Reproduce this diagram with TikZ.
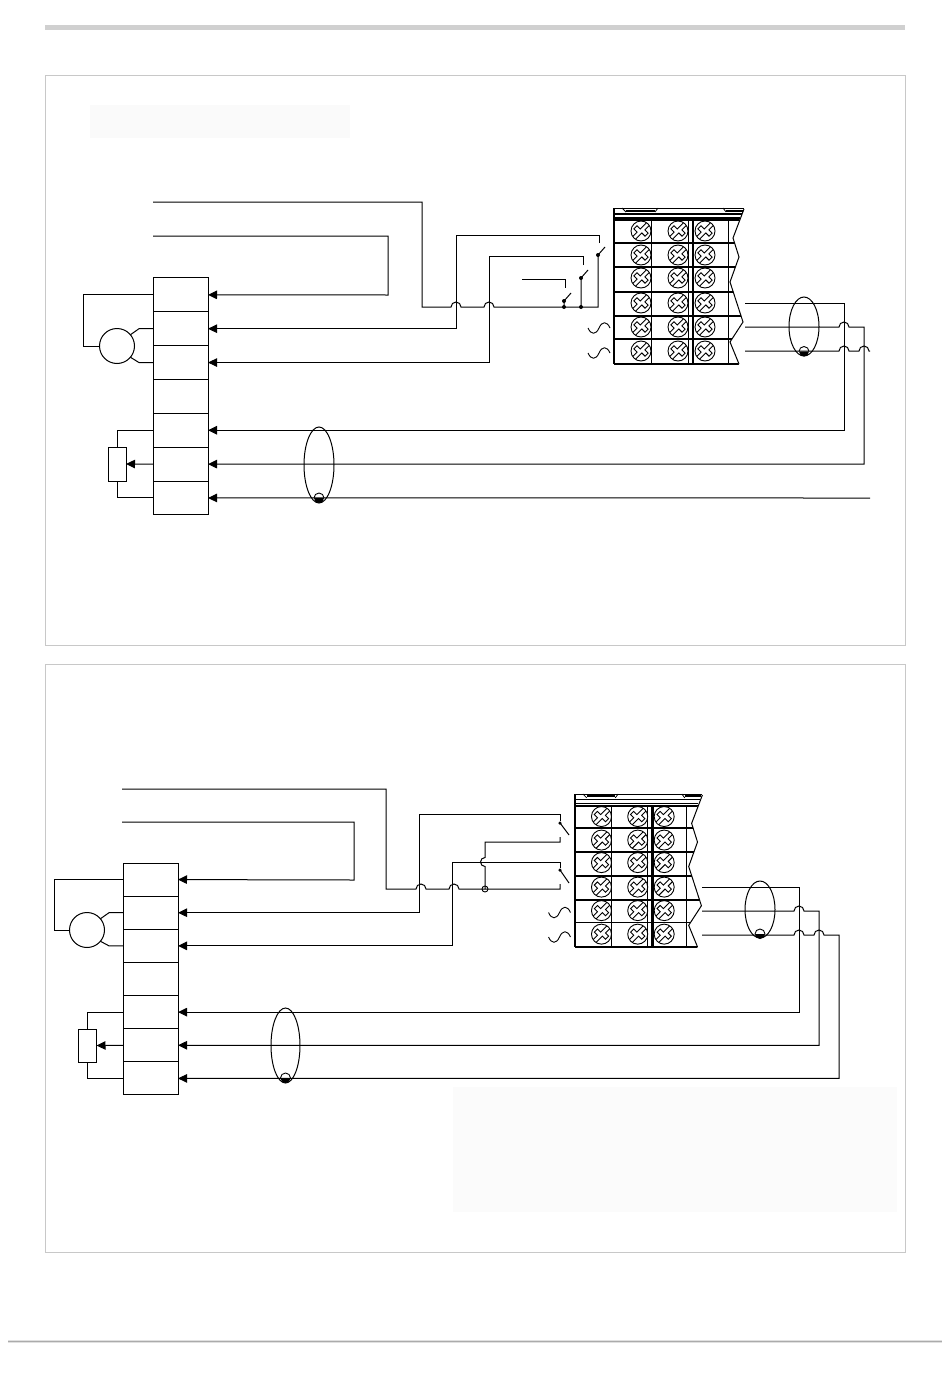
\documentclass[tikz,border=0pt]{standalone}
\usetikzlibrary{%
        arrows.meta,
        shapes.geometric
    }
\definecolor{framegray}{RGB}{200, 200, 200}
\definecolor{bargray}{RGB}{208, 208, 208}
\tikzset{%
    wire/.style={line width=1pt, black},
    frame/.style={line width=0.9pt, framegray},
    hopup/.style={start angle=180, end angle=360, radius=5},
    hopleft/.style={start angle=270, end angle=90, radius=4.5},
    blockcell/.style={draw, line width=1pt, minimum width=55pt, minimum height=#1,
        inner sep=0pt, outer sep=0pt},
    motor/.style={circle, draw, line width=1pt, minimum size=35pt, inner sep=0pt, outer sep=0pt},
    pot/.style={draw, line width=1pt, minimum width=18pt, minimum height=34pt,
        inner sep=0pt, outer sep=0pt},
    swdot/.style={circle, fill=black, minimum size=4pt, inner sep=0pt, outer sep=0pt},
    cable/.style={ellipse, draw, line width=1pt, inner sep=0pt, outer sep=0pt}
}
\tikzset{%
    screw/.pic={%
        code{%
            \draw[line width=0.9pt] (0, 0) circle (10);
            \draw[line width=0.9pt, rotate=45]
                (-9.6, -2) -- (-3.6, -2) -- (-3.6, -6.5) -- (0.8, -6.5) -- (0.8, -2) -- (9.6, -2)
                (-9.6, 2) -- (-0.8, 2) -- (-0.8, 6.5) -- (3.6, 6.5) -- (3.6, 2) -- (9.6, 2);
        }
    }
}
\tikzset{%
    terminals/.pic={%
        code{%
            \begin{scope}
                \clip (-1, -1) -- (130, -1) -- (119, 30) -- (125, 49) -- (116, 74)
                    -- (129, 114) -- (116, 134) -- (125, 157) -- (-1, 157) -- cycle;
                \foreach \rowy in {12, 35, 59, 84, 108, 131, 156}{%
                    \draw[line width=1.7pt] (0, \rowy) -- (131, \rowy);
                };
            \end{scope}
            \draw[line width=1pt] (130, 1) -- (119, 30) -- (125, 49) -- (116, 74)
                -- (129, 114) -- (116, 134) -- (125, 156);
            \draw[line width=1.3pt] (0, 0) -- (0, 156);
            \foreach \colx in {37, 74, 114}{%
                \draw[line width=1pt] (\colx, 12) -- (\colx, 156);
            };
            \draw[line width=2.2pt] (79, 12) -- (79, 156);
            % top edge of the housing
            \draw[line width=1pt] (0, 0) -- (130, 0);
            \draw[line width=1.2pt] (0, 6) -- (128, 6);
            \draw[line width=1.2pt] (0, 10) -- (126, 10);
            \draw[line width=2pt] (12, 2.5) -- (41, 2.5);
            \draw[line width=2pt] (112, 2.5) -- (129, 2.5);
            \draw[line width=0.8pt] (8, 0) -- (12, 4) (44, 0) -- (41, 4) (109, 0) -- (112, 4);
            \foreach \colx in {27, 64, 91}{%
                \foreach \rowy in {23, 47, 70, 95, 119, 143}{%
                    \path (\colx, \rowy) pic {screw};
                };
            };
        }
    },
    acsign/.pic={%
        code{%
            \draw[line width=0.9pt] (-11, 0) .. controls (-8, 7) and (-3, 7) .. (0, 0)
                .. controls (3, -7) and (8, -7) .. (11, 0);
        }
    },
    drain/.pic={%
        code{%
            \fill (5, 0) arc[start angle=0, end angle=180, radius=5] -- cycle;
            \draw[line width=0.9pt] (5, 0) arc[start angle=360, end angle=180, radius=5];
        }
    }
}

\begin{document}
\begin{tikzpicture}[x=1pt, y=-1pt, >={Triangle[length=9pt, width=8.5pt]}]

    \useasboundingbox (0, 0) rectangle (950, 1378);
    \fill[white] (0, 0) rectangle (950, 1378);

    % Page furniture
    \fill[bargray] (45, 25) rectangle (905, 30);
    \fill[black!12] (8, 1339.5) rectangle (942, 1343);
    \fill[black!33] (8, 1340.7) rectangle (942, 1341.8);
    \draw[frame] (45, 75) rectangle (905, 645);
    \draw[frame] (45, 664) rectangle (905, 1252);
    \fill[black!2] (90, 105) rectangle (350, 138);
    \fill[black!1.5] (453, 1087) rectangle (897, 1212);


    % Upper panel: actuator block
    \foreach \i in {1, ..., 7}{%
        \node[blockcell=33.85pt] (a\i) at (180.5, 261 + 33.85*\i) {};
    };
    \node[motor] (a-motor) at (117, 346) {};
    \node[pot] (a-pot) at (117, 464) {};
    \draw[wire] (a1.west) -- ++(-70, 0) |- (a-motor.west);
    \draw[wire] (a2.west) -- ++(-14, 0) -- (a-motor.40);
    \draw[wire] (a3.west) -- ++(-14, 0) -- (a-motor.-40);
    \draw[wire] (a5.west) -| (a-pot.north);
    \draw[wire] (a7.west) -| (a-pot.south);
    \draw[wire, ->] (a6.west) -- (a-pot.east);

    % Upper panel: switches
    \coordinate (a-in1) at (153, 202);
    \coordinate (a-in2) at (153, 236);
    \coordinate (a-in3) at (522, 279);
    \coordinate (a-t1) at (599, 243);
    \coordinate (a-t2) at (583, 265);
    \coordinate (a-t3) at (565, 288);
    \coordinate (a-com) at (598, 307);
    \node[swdot] (a-sw1) at (598, 255) {};
    \node[swdot] (a-sw2) at (581, 278) {};
    \node[swdot] (a-sw3) at (564, 301) {};
    \node[swdot] (a-jn2) at (581, 307) {};
    \node[swdot] (a-jn3) at (564, 307) {};

    \draw[wire] (a-in1) -| (422, 307) -- (451, 307) arc[hopup] -- (484, 307) arc[hopup] -- (a-com)
        -- (a-sw1.center) -- ++(7, -8);
    \draw[wire] (a-jn2.center) -- (a-sw2.center) -- ++(7, -8);
    \draw[wire] (a-jn3.center) -- (a-sw3.center) -- ++(7, -8);
    \draw[wire, ->] (a-in2) -| (388, 295) -- (a1.east);
    \draw[wire, ->] (a-t1) |- (456, 235) |- (a2.east);
    \draw[wire, ->] (a-t2) |- (489, 256) |- (a3.east);
    \draw[wire] (a-in3) -| (a-t3);

    % Upper panel: terminals and signal lines
    \path (614, 208) pic {terminals};
    \path (599, 328) pic {acsign}
          (599, 353) pic {acsign};
    \coordinate (a-out1) at (745, 303);
    \coordinate (a-out2) at (745, 327);
    \coordinate (a-out3) at (745, 351);
    \coordinate (a-end3) at (870, 351);
    \coordinate (a-end7) at (870, 498);
    \draw[wire, ->] (a-out1) -- (844, 303) |- (a5.east);
    \draw[wire, ->] (a-out2) -- (839, 327) arc[hopup] -- (864, 327) |- (a6.east);
    \draw[wire] (a-out3) -- (839, 351) arc[hopup] -- (859, 351) arc[hopup] -- (a-end3);
    \draw[wire, ->] (a-end7) -- (a7.east);

    \node[cable, minimum width=30pt, minimum height=59pt] (a-cable1) at (804, 326.5) {};
    \node[cable, minimum width=30pt, minimum height=76pt] (a-cable2) at (319, 465) {};
    \path (804, 351.5) pic {drain}
          (319, 498) pic {drain};


    % Lower panel: actuator block
    \foreach \i in {1, ..., 7}{%
        \node[blockcell=33.14pt] (b\i) at (150.5, 846.43 + 33.14*\i) {};
    };
    \node[motor] (b-motor) at (87, 930) {};
    \node[pot, minimum height=33pt] (b-pot) at (87.5, 1045.5) {};
    \draw[wire] (b1.west) -- ++(-68.5, 0) |- (b-motor.west);
    \draw[wire] (b2.west) -- ++(-14, 0) -- (b-motor.40);
    \draw[wire] (b3.west) -- ++(-14, 0) -- (b-motor.-40);
    \draw[wire] (b5.west) -| (b-pot.north);
    \draw[wire] (b7.west) -| (b-pot.south);
    \draw[wire, ->] (b6.west) -- (b-pot.east);

    % Lower panel: switches
    \coordinate (b-in1) at (122, 789);
    \coordinate (b-in2) at (122, 822);
    \coordinate (b-t1) at (560, 821);
    \coordinate (b-t2) at (560, 837);
    \coordinate (b-t3) at (560, 868);
    \coordinate (b-t4) at (560, 884);
    \node[swdot, minimum size=3.5pt] (b-sw1) at (560, 823) {};
    \node[swdot, minimum size=3.5pt] (b-sw2) at (560, 870) {};
    \node[circle, draw, line width=0.9pt, minimum size=6pt, inner sep=0pt] (b-jn) at (485, 889) {};

    \draw[wire] (b-in1) -| (386, 889) -- (416, 889) arc[hopup] -- (449, 889) arc[hopup]
        -- (b-jn.center) -- (560, 889) -- (b-t4);
    \draw[wire] (b-t2) -- (560, 842) -| (485, 857.5) arc[hopleft] -- (b-jn.center);
    \draw[wire] (b-sw1.center) -- ++(9, 12);
    \draw[wire] (b-sw2.center) -- ++(9, 13);
    \draw[wire, ->] (b-in2) -| (354, 880) -- (b1.east);
    \draw[wire, ->] (b-t1) |- (419, 814) |- (b2.east);
    \draw[wire, ->] (b-t3) |- (452, 862) |- (b3.east);

    % Lower panel: terminals and signal lines
    \path (575, 794) pic[scale=0.98] {terminals};
    \path (559.5, 912.5) pic {acsign}
          (559.5, 937) pic {acsign};
    \coordinate (b-out1) at (702, 887);
    \coordinate (b-out2) at (702, 911);
    \coordinate (b-out3) at (702, 935);
    \draw[wire, ->] (b-out1) -- (799, 887) |- (b5.east);
    \draw[wire, ->] (b-out2) -- (794, 911) arc[hopup] -- (819, 911) |- (b6.east);
    \draw[wire, ->] (b-out3) -- (794, 935) arc[hopup] -- (814, 935) arc[hopup] -- (839, 935) |- (b7.east);

    \node[cable, minimum width=30pt, minimum height=57pt] (b-cable1) at (760, 909.5) {};
    \node[cable, minimum width=29pt, minimum height=75pt] (b-cable2) at (285.5, 1045.5) {};
    \path (760, 934) pic {drain}
          (285.5, 1078) pic {drain};

\end{tikzpicture}
\end{document}
